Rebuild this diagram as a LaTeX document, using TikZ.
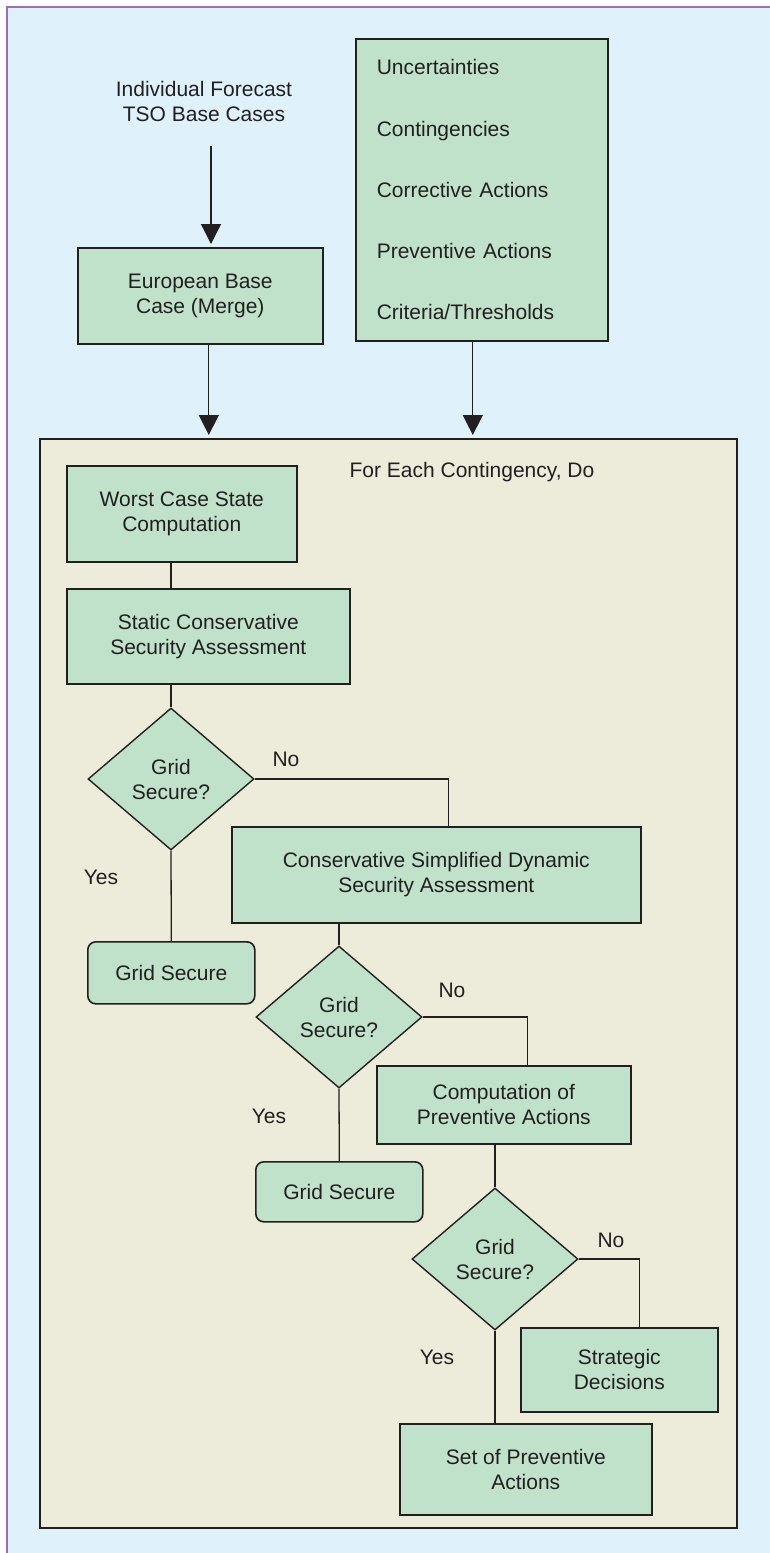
\documentclass[tikz,border=0pt]{standalone}
\usepackage{fontspec}
\setmainfont{Liberation Sans}
\usepackage{tikz}
\usetikzlibrary{shapes.geometric,arrows.meta}

\definecolor{bgBlue}{HTML}{DFF1FB}
\definecolor{framePurple}{HTML}{9C6DB6}
\definecolor{boxGreen}{HTML}{C0E2CA}
\definecolor{loopBeige}{HTML}{EDEBDA}
\definecolor{inkGray}{HTML}{231F20}

\begin{document}
\begin{tikzpicture}[x=1pt, y=-1pt,
            every node/.style={font=\fontsize{21}{25}\selectfont, text=inkGray}]
            \tikzstyle{boxStyle} = [rectangle, draw=inkGray, fill=boxGreen, line width=1.6pt,
                                    align=center, inner sep=0pt, anchor=north west]
            \tikzstyle{roundStyle} = [boxStyle, rounded corners=8pt]
            \tikzstyle{decisionStyle} = [diamond, draw=inkGray, fill=boxGreen, line width=1.4pt,
                                    align=center, inner sep=0pt, minimum width=166pt, minimum height=142pt]
            \tikzstyle{labelStyle} = [inner sep=0pt, anchor=base]
            \tikzstyle{blackEdge} = [draw=inkGray, line width=1.3pt]
            \tikzstyle{arrowEdge} = [blackEdge, -{Triangle[width=20pt,length=20pt]}, shorten >=3pt]
            \useasboundingbox (0,0) rectangle (770,1553);
            \fill[white] (0,0) rectangle (770,1553);
            \fill[bgBlue] (7,7) rectangle (770,1553);
            \draw[framePurple, line width=2.2pt] (7,1553) -- (7,7) -- (770,7);
            % inputs
            \node[labelStyle, align=center, anchor=north] (forecast) at (204,81) {Individual Forecast\\TSO Base Cases};
            \node[boxStyle, minimum width=245pt, minimum height=96pt] (merge) at (77,247) {European Base\\Case (Merge)};
            \node[boxStyle, minimum width=252pt, minimum height=302pt, align=left, text width=210pt] (params) at (355,38)
                {Uncertainties\\[36.3pt]Contingencies\\[36.3pt]Corrective Actions\\[36.3pt]Preventive Actions\\[36.3pt]Criteria/Thresholds};
            % contingency loop
            \node[boxStyle, fill=loopBeige, minimum width=697pt, minimum height=1089pt] (loop) at (39,438) {};
            \node[labelStyle] (forEach) at (472,477) {For Each Contingency, Do};
            \node[boxStyle, minimum width=230pt, minimum height=96pt] (worst) at (66,465) {Worst Case State\\Computation};
            \node[boxStyle, minimum width=283pt, minimum height=95pt] (static) at (66,588) {Static Conservative\\Security Assessment};
            \node[decisionStyle] (decA) at (171,779) {Grid\\Secure?};
            \node[labelStyle] (noA) at (286,766) {No};
            \node[labelStyle] (yesA) at (101,884) {Yes};
            \node[boxStyle, minimum width=409pt, minimum height=96pt] (csdsa) at (231,826) {Conservative Simplified Dynamic\\Security Assessment};
            \node[roundStyle, minimum width=167pt, minimum height=62pt] (secureA) at (87,941) {Grid Secure};
            \node[decisionStyle] (decB) at (339,1017) {Grid\\Secure?};
            \node[labelStyle] (noB) at (452,997) {No};
            \node[labelStyle] (yesB) at (269,1123) {Yes};
            \node[boxStyle, minimum width=254pt, minimum height=78pt] (comp) at (376,1065) {Computation of\\Preventive Actions};
            \node[roundStyle, minimum width=167pt, minimum height=60pt] (secureB) at (255,1161) {Grid Secure};
            \node[decisionStyle] (decC) at (495,1259) {Grid\\Secure?};
            \node[labelStyle] (noC) at (611,1247) {No};
            \node[labelStyle] (yesC) at (437,1364) {Yes};
            \node[boxStyle, minimum width=197pt, minimum height=84pt] (strategic) at (520,1327) {Strategic\\Decisions};
            \node[boxStyle, minimum width=252pt, minimum height=91pt] (prevSet) at (399,1423) {Set of Preventive\\Actions};
            % arrows into the loop
            \draw[arrowEdge] ([xshift=7pt,yshift=-24pt]forecast.south) -- ([xshift=7pt]forecast.south |- merge.north);
            \draw[arrowEdge] ([xshift=8.5pt]merge.south) -- ([xshift=8.5pt]merge.south |- loop.north);
            \draw[arrowEdge] ([xshift=-9pt]params.south) -- ([xshift=-9pt]params.south |- loop.north);
            % flow inside the loop
            \foreach \from/\to in {worst.south -| decA.north/static.north -| decA.north,
                                static.south -| decA.north/decA.north, decA.south/secureA.north,
                                csdsa.south -| decB.north/decB.north, decB.south/secureB.north,
                                comp.south -| decC.north/decC.north, decC.south/decC.south |- prevSet.north}
                \path[blackEdge] (\from) edge (\to);
            \draw[blackEdge] (decA.east) -| ([xshift=12.5pt]csdsa.north);
            \draw[blackEdge] (decB.east) -| ([xshift=24pt]comp.north);
            \draw[blackEdge] (decC.east) -| ([xshift=20.5pt]strategic.north);
\end{tikzpicture}
\end{document}
